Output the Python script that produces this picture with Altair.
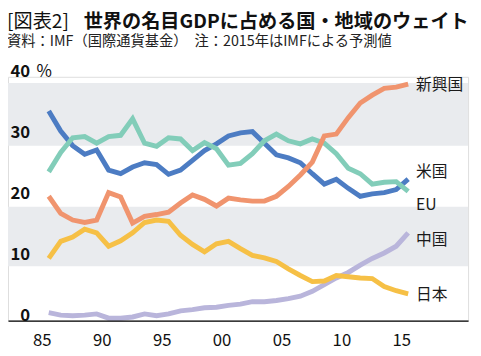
import altair as alt
import pandas as pd

years = list(range(1985, 2016))
us = [34.4, 31.1, 28.7, 27.3, 28.0, 24.7, 24.1, 25.2, 25.9, 25.6, 24.0, 24.7, 26.3, 27.9, 29.0, 30.3,
      30.8, 31.0, 29.1, 27.2, 26.7, 25.9, 24.1, 22.4, 23.2, 21.7, 20.4, 20.8, 21.0, 21.5, 23.2]
eu = [24.4, 27.6, 30.0, 30.2, 29.1, 30.2, 30.4, 33.1, 29.1, 28.6, 30.0, 29.8, 27.9, 29.2, 28.2, 25.5,
      25.8, 27.4, 29.5, 30.6, 29.5, 29.0, 29.8, 29.1, 27.4, 25.0, 24.1, 22.4, 22.7, 22.8, 21.2]
emerging = [20.4, 17.6, 16.5, 16.1, 16.5, 21.0, 20.3, 16.0, 17.1, 17.4, 17.8, 19.3, 20.6, 19.9, 18.8, 20.1,
            19.8, 19.6, 19.6, 20.4, 22.0, 23.9, 26.0, 30.3, 30.6, 33.3, 35.7, 37.0, 38.1, 38.3, 38.8]
japan = [10.2, 13.0, 13.7, 15.0, 14.4, 12.2, 13.1, 14.4, 16.1, 16.5, 16.3, 14.0, 12.5, 11.3, 12.6, 13.0,
         11.8, 10.7, 10.3, 9.7, 8.5, 7.4, 6.4, 6.5, 7.4, 7.2, 7.0, 6.9, 5.6, 4.9, 4.4]
china = [1.3, 0.9, 0.8, 0.9, 1.1, 0.4, 0.4, 0.6, 1.1, 0.8, 1.1, 1.6, 1.8, 2.1, 2.2, 2.5,
         2.7, 3.1, 3.1, 3.3, 3.6, 4.0, 4.8, 5.9, 7.0, 7.9, 9.1, 10.2, 11.1, 12.2, 14.4]

series_names = ["中国", "米国", "EU", "新興国", "日本"]
series_values = [china, us, eu, emerging, japan]
series_colors = ["#b9b5db", "#4c7cc3", "#82cdb9", "#f0946e", "#f6c046"]
label_values = [13.2, 24.4, 19.0, 38.7, 4.2]

band_low = [8.9, 28.7]
band_high = [18.7, 39.0]

y_ticks = [0, 10, 20, 30, 40]
x_ticks = [1985, 1990, 1995, 2000, 2005, 2010, 2015]

title_prefix = "[図表2]"
title_main = "世界の名目GDPに占める国・地域のウェイト"
subtitle = "資料：IMF（国際通貨基金）　注：2015年はIMFによる予測値"

FONT = "Noto Sans CJK JP"
W, H = 468, 248

rows = []
for name, vals in zip(series_names, series_values):
    for yr, v in zip(years, vals):
        rows.append({"series": name, "year": yr, "value": v})
df = pd.DataFrame(rows)

xscale = alt.Scale(domain=[1981.6, 2020], nice=False, zero=False)
yscale = alt.Scale(domain=[0, 40], nice=False)

yaxis = alt.Axis(values=y_ticks, title=None, domain=False, ticks=False, grid=False,
                 labelAlign="right", labelPadding=-22, labelOffset=-5,
                 labelOverlap=False, labelBound=False, labelFlush=False,
                 labelFont=FONT, labelFontSize=17, labelFontWeight="bold",
                 labelColor="#111111", labelBaseline="middle", zindex=1)
xaxis = alt.Axis(values=x_ticks, title=None, grid=False, ticks=False,
                 domainColor="#000000", domainWidth=1.3,
                 labelExpr="slice(toString(datum.value), 2)",
                 labelFont=FONT, labelFontSize=17, labelColor="#111111",
                 labelPadding=12, labelOffset=-7, labelFlush=False,
                 labelOverlap=False, zindex=1)

bands = alt.Chart(pd.DataFrame({"lo": band_low, "hi": band_high})).mark_rect(color="#e9ebee").encode(
    x=alt.value(0), x2=alt.value(W),
    y=alt.Y("lo:Q", scale=yscale, axis=yaxis),
    y2="hi:Q",
)

layers = [bands]
for name, color in zip(series_names, series_colors):
    layers.append(
        alt.Chart(df).transform_filter(alt.datum.series == name)
        .mark_line(color=color, strokeWidth=5, strokeJoin="miter", strokeCap="butt")
        .encode(
            x=alt.X("year:Q", scale=xscale, axis=xaxis),
            y=alt.Y("value:Q", scale=yscale, axis=yaxis),
        )
    )

lab_df = pd.DataFrame({"series": series_names, "year": [2015] * 5, "pos": label_values})
labels = alt.Chart(lab_df).mark_text(align="left", baseline="middle", dx=8, font=FONT,
                                     fontSize=16, color="#1a1a1a").encode(
    x=alt.X("year:Q", scale=xscale, axis=xaxis),
    y=alt.Y("pos:Q", scale=yscale, axis=yaxis), text="series:N")
layers.append(labels)

pct = alt.Chart(pd.DataFrame({"v": [40], "t": ["%"]})).mark_text(
    align="left", baseline="middle", font=FONT, fontSize=17, color="#111111", dy=-5).encode(
    x=alt.value(29), y=alt.Y("v:Q", scale=yscale, axis=yaxis), text="t:N")
layers.append(pct)

one = pd.DataFrame({"a": [0]})
t1 = alt.Chart(one).mark_text(text=title_prefix, align="left", baseline="middle", font=FONT,
                              fontSize=19.5, color="#111111").encode(x=alt.value(-1), y=alt.value(-56))
t2 = alt.Chart(one).mark_text(text=title_main, align="left", baseline="middle", font=FONT,
                              fontSize=19.5, fontWeight="bold", color="#111111").encode(x=alt.value(77), y=alt.value(-56))
t3 = alt.Chart(one).mark_text(text=subtitle, align="left", baseline="middle", font=FONT,
                              fontSize=14.5, color="#222222").encode(x=alt.value(-1), y=alt.value(-35))
layers += [t1, t2, t3]

chart = alt.layer(*layers).resolve_axis(y="shared").properties(
    width=W, height=H,
    autosize=alt.AutoSizeParams(type="none"),
    padding={"left": 0, "top": 67, "right": 5, "bottom": 32},
).configure_view(stroke=None).configure(background="white")

chart.save("out.html", embed_options={"renderer": "svg", "actions": False})
